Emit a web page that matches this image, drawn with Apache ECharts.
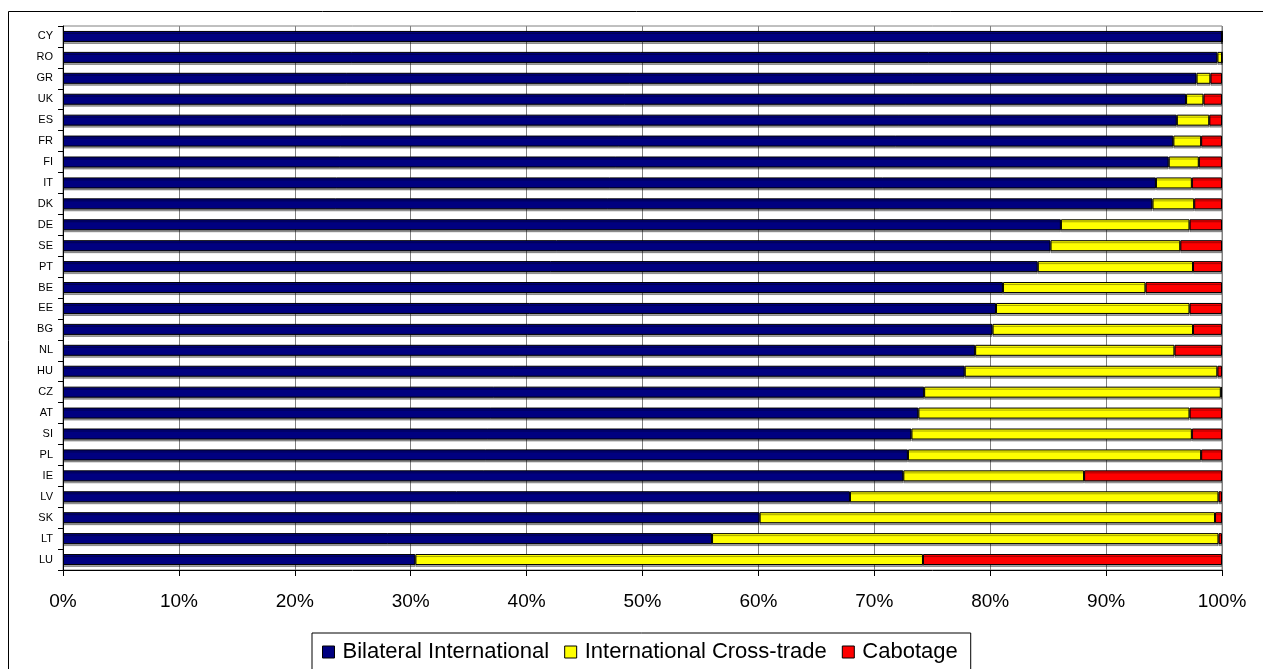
<!DOCTYPE html>
<html>
<head>
<meta charset="utf-8">
<title>Road freight by type of operation</title>
<script src="https://cdn.jsdelivr.net/npm/echarts@6/dist/echarts.min.js"></script>
<style>
    html, body { margin: 0; padding: 0; background: #fff; }
    #chart { width: 1263px; height: 669px; }
</style>
</head>
<body>
<div id="chart"></div>
<script>
// 国家（从上到下）
var categories = ['CY', 'RO', 'GR', 'UK', 'ES', 'FR', 'FI', 'IT', 'DK', 'DE', 'SE', 'PT', 'BE',
    'EE', 'BG', 'NL', 'HU', 'CZ', 'AT', 'SI', 'PL', 'IE', 'LV', 'SK', 'LT', 'LU'];
var bilateral = [100, 99.6, 97.8, 96.9, 96.1, 95.8, 95.4, 94.3, 94.0, 86.1, 85.2, 84.1, 81.1,
    80.5, 80.2, 78.7, 77.8, 74.3, 73.8, 73.2, 72.9, 72.5, 67.9, 60.1, 56.0, 30.4];
var crossTrade = [0, 0.4, 1.2, 1.5, 2.8, 2.4, 2.6, 3.1, 3.6, 11.1, 11.2, 13.4, 12.3,
    16.7, 17.3, 17.2, 21.8, 25.6, 23.4, 24.2, 25.3, 15.6, 31.8, 39.3, 43.7, 43.8];
var cabotage = [0, 0, 1.0, 1.6, 1.1, 1.8, 2.0, 2.6, 2.4, 2.8, 3.6, 2.5, 6.6,
    2.8, 2.5, 4.1, 0.4, 0.1, 2.8, 2.6, 1.8, 11.9, 0.3, 0.6, 0.3, 25.8];
var xTicks = [0, 10, 20, 30, 40, 50, 60, 70, 80, 90, 100];

var font = "'Liberation Sans', Arial, sans-serif";

function barSeries(name, data, color) {
    return {
        name: name,
        type: 'bar',
        stack: 'total',
        barWidth: 11,
        data: data,
        itemStyle: {
            color: color,
            borderColor: '#000',
            borderWidth: 1,
            shadowColor: 'rgba(0,0,0,0.35)',
            shadowOffsetY: 2,
            shadowBlur: 0
        },
        emphasis: { disabled: true }
    };
}

var chart = echarts.init(document.getElementById('chart'));
chart.setOption({
    animation: false,
    backgroundColor: '#fff',
    grid: {
        left: 63,
        right: 41,
        top: 26,
        bottom: 99,
        show: true,
        borderColor: '#808080',
        borderWidth: 1
    },
    // 外框
    graphic: [{
        type: 'rect',
        shape: { x: 8.5, y: 11.5, width: 1300, height: 700 },
        style: { fill: 'none', stroke: '#000', lineWidth: 1 },
        silent: true
    }],
    legend: {
        left: 312,
        top: 633,
        padding: [8, 13, 8, 10],
        itemGap: 15,
        itemWidth: 12,
        itemHeight: 12,
        icon: 'rect',
        borderColor: '#000',
        borderWidth: 1,
        textStyle: { fontFamily: font, fontSize: 22, color: '#000', padding: [0, 0, 0, 3] },
        itemStyle: { borderColor: '#000', borderWidth: 1, shadowBlur: 0, shadowOffsetY: 0 },
        data: ['Bilateral International', 'International Cross-trade', 'Cabotage']
    },
    xAxis: {
        type: 'value',
        min: xTicks[0],
        max: xTicks[xTicks.length - 1],
        interval: 10,
        axisLine: { show: true, lineStyle: { color: '#000' } },
        axisTick: { show: true, length: 6, lineStyle: { color: '#000' } },
        axisLabel: {
            margin: 22,
            fontFamily: font,
            fontSize: 19,
            color: '#000',
            formatter: '{value}%'
        },
        splitLine: { show: true, lineStyle: { color: '#808080', width: 1 } }
    },
    yAxis: {
        type: 'category',
        inverse: true,
        data: categories,
        axisLine: { show: true, lineStyle: { color: '#000' } },
        axisTick: { show: true, length: 5, lineStyle: { color: '#000' } },
        axisLabel: { margin: 10, fontFamily: font, fontSize: 11, color: '#000' },
        splitLine: { show: false }
    },
    series: [
        barSeries('Bilateral International', bilateral, '#000080'),
        barSeries('International Cross-trade', crossTrade, '#ffff00'),
        barSeries('Cabotage', cabotage, '#ff0000')
    ]
});
</script>
</body>
</html>
